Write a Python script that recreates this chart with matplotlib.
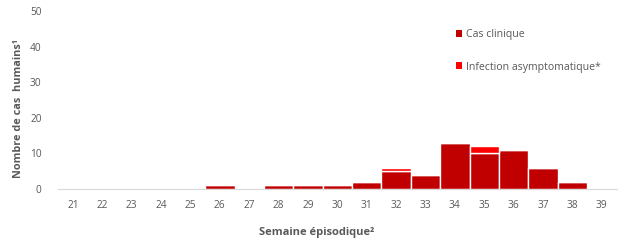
import matplotlib
matplotlib.use("Agg")
import matplotlib.pyplot as plt
from matplotlib.patches import Patch
import numpy as np

weeks = list(range(21, 40))
clinical = [0, 0, 0, 0, 0, 1, 0, 1, 1, 1, 2, 5, 4, 13, 10, 11, 6, 2, 0]
asymptomatic = [0, 0, 0, 0, 0, 0, 0, 0, 0, 0, 0, 1, 0, 0, 2, 0, 0, 0, 0]
yticks = [0, 10, 20, 30, 40, 50]

c_clin = "#C00000"
c_asym = "#FF0000"
grey = "#595959"

plt.rcParams['font.family'] = ['Open Sans', 'DejaVu Sans']

fig = plt.figure(figsize=(6.24, 2.49), dpi=100)
ax = fig.add_axes([0.0934, 0.241, 0.8946, 0.715])

ax.bar(weeks, clinical, width=1.0, color=c_clin, edgecolor="white", linewidth=1.0)
ax.bar(weeks, asymptomatic, bottom=clinical, width=1.0, color=c_asym, edgecolor="white", linewidth=1.0)

ax.set_xlim(20.5, 39.5)
ax.set_ylim(0, 50)
ax.set_yticks(yticks)
ax.set_xticks(weeks)
ax.tick_params(axis='both', length=0, labelsize=7.3, colors=grey)
ax.tick_params(axis='x', pad=8)
ax.tick_params(axis='y', pad=12)
for s in ['top', 'right', 'left']:
    ax.spines[s].set_visible(False)
ax.spines['bottom'].set_color("#D9D9D9")
ax.spines['bottom'].set_linewidth(0.8)

ax.set_xlabel("Semaine épisodique²", fontsize=8, fontweight='bold', color=grey)
ax.xaxis.set_label_coords(0.463, -0.215)
ax.set_ylabel("Nombre de cas  humains¹", fontsize=7.8, fontweight='bold', color=grey)
ax.yaxis.set_label_coords(-0.062, 0.45)

handles = [Patch(facecolor=c_clin, label="Cas clinique"),
           Patch(facecolor=c_asym, label="Infection asymptomatique*")]
leg = fig.legend(handles=handles, loc='upper left', bbox_to_anchor=(0.715, 0.92),
                 frameon=False, fontsize=7.6, handlelength=0.6, handleheight=0.6,
                 handletextpad=0.4, labelspacing=2.0, labelcolor=grey)

fig.savefig("out.png", dpi=100)
